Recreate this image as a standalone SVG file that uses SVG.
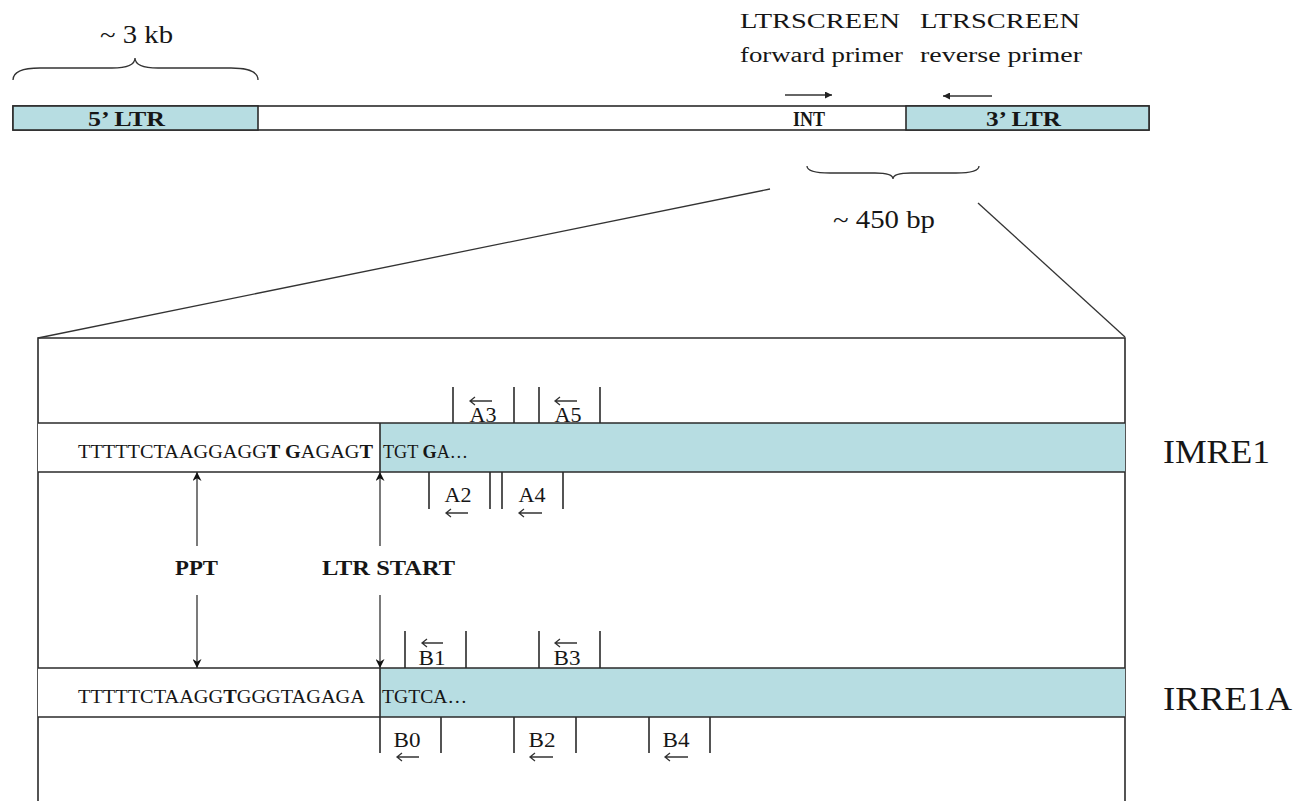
<svg xmlns="http://www.w3.org/2000/svg" width="1299" height="801" viewBox="0 0 1299 801">
<style>
  text { font-family: "Liberation Serif", "Times New Roman", serif; fill: #161616; }
  .b { font-weight: bold; }
  .ln { stroke: #2b2b2b; stroke-width: 1.6; fill: none; }
  .thin { stroke: #333; stroke-width: 1.3; fill: none; }
  .ltr { fill: #b7dde2; stroke: #2b2b2b; stroke-width: 1.6; }
  .bar { fill: #ffffff; stroke: #2b2b2b; stroke-width: 1.6; }
  .seq { font-size: 19px; }
  .lbl { font-size: 22px; }
  .big { font-size: 34px; }
  .mid { font-size: 20px; }
  .sz { font-size: 26px; }
</style>
<defs>
  <marker id="fh" viewBox="0 0 10 10" refX="10" refY="5" markerWidth="7" markerHeight="7" markerUnits="userSpaceOnUse" orient="auto">
    <path d="M0,0 L10,5 L0,10 Z" fill="#222"/>
  </marker>
  <marker id="vh" viewBox="0 0 10 10" refX="10" refY="5" markerWidth="10" markerHeight="9" markerUnits="userSpaceOnUse" orient="auto">
    <path d="M0,0 L10,5 L0,10 L3,5 Z" fill="#111"/>
  </marker>
</defs>

<!-- Top element -->
<g id="element-bar">
  <rect class="bar" x="13" y="106" width="1136" height="24"/>
  <rect class="ltr" x="13" y="106" width="245" height="24"/>
  <rect class="ltr" x="906" y="106" width="243" height="24"/>
</g>
<g id="ltr5">
  <text class="b" x="88" y="126" font-size="21" textLength="77" lengthAdjust="spacingAndGlyphs">5’ LTR</text>
</g>
<g id="int">
  <text class="b" x="793" y="126" font-size="21" textLength="32" lengthAdjust="spacingAndGlyphs">INT</text>
</g>
<g id="ltr3">
  <text class="b" x="986" y="126" font-size="21" textLength="75" lengthAdjust="spacingAndGlyphs">3’ LTR</text>
</g>
<g id="size-3kb">
  <path class="thin" d="M13,80 Q13,68 40,68 L112,68 Q135,68 135,58 Q135,68 158,68 L231,68 Q258,68 258,80"/>
  <text class="sz" x="100" y="43" textLength="73" lengthAdjust="spacingAndGlyphs">~ 3 kb</text>
</g>
<g id="fwd-primer">
  <text class="mid" x="740" y="28" textLength="160" lengthAdjust="spacingAndGlyphs">LTRSCREEN</text>
  <text class="mid" x="740" y="62" textLength="163" lengthAdjust="spacingAndGlyphs">forward primer</text>
</g>
<g id="rev-primer">
  <text class="mid" x="920" y="28" textLength="160" lengthAdjust="spacingAndGlyphs">LTRSCREEN</text>
  <text class="mid" x="920" y="62" textLength="162" lengthAdjust="spacingAndGlyphs">reverse primer</text>
</g>
<g id="size-450bp">
  <path class="thin" d="M807,166 Q807,173 830,173 L875,173 Q893,173 893,179 Q893,173 911,173 L956,173 Q979,173 979,166"/>
  <text class="sz" x="833" y="228" textLength="102" lengthAdjust="spacingAndGlyphs">~ 450 bp</text>
</g>

<!-- Zoomed panel frame -->
<g id="panel">
  <path class="ln" d="M38,801 V338 H1125 V801"/>
</g>

<!-- IMRE1 row -->
<g id="imre1">
  <rect x="38" y="423" width="1087" height="49" fill="#ffffff"/>
  <rect x="380" y="423" width="745" height="49" fill="#b7dde2"/>
  <path class="ln" d="M38,423 H1125 M38,472 H1125 M380,423 V472"/>
  <text class="seq" x="78" y="458" textLength="295" lengthAdjust="spacingAndGlyphs">TTTTTCTAAGGAGG<tspan class="b">T G</tspan>AGAG<tspan class="b">T</tspan></text>
  <text class="seq" x="383" y="458" textLength="85" lengthAdjust="spacingAndGlyphs">TGT <tspan class="b">G</tspan>A…</text>
  <text class="big" x="1163" y="463" textLength="107" lengthAdjust="spacingAndGlyphs">IMRE1</text>
</g>

<!-- IRRE1A row -->
<g id="irre1a">
  <rect x="38" y="668" width="1087" height="49" fill="#ffffff"/>
  <rect x="380" y="668" width="745" height="49" fill="#b7dde2"/>
  <path class="ln" d="M38,668 H1125 M38,717 H1125 M380,668 V717"/>
  <text class="seq" x="78" y="703" textLength="287" lengthAdjust="spacingAndGlyphs">TTTTTCTAAGG<tspan class="b">T</tspan>GGGTAGAGA</text>
  <text class="seq" x="382" y="703" textLength="85" lengthAdjust="spacingAndGlyphs">TGTCA…</text>
  <text class="big" x="1163" y="710" textLength="129" lengthAdjust="spacingAndGlyphs">IRRE1A</text>
</g>

<!-- Primers -->
<g id="primer-A3">
  <path class="ln" d="M453,387 V423 M514,387 V423"/>
  <text class="lbl" x="483" y="422" text-anchor="middle" textLength="27" lengthAdjust="spacingAndGlyphs">A3</text>
</g>
<g id="primer-A5">
  <path class="ln" d="M539,387 V423 M600,387 V423"/>
  <text class="lbl" x="568" y="422" text-anchor="middle" textLength="27" lengthAdjust="spacingAndGlyphs">A5</text>
</g>
<g id="primer-A2">
  <path class="ln" d="M429,472 V509 M490,472 V509"/>
  <text class="lbl" x="458" y="502" text-anchor="middle" textLength="27" lengthAdjust="spacingAndGlyphs">A2</text>
</g>
<g id="primer-A4">
  <path class="ln" d="M502,472 V509 M563,472 V509"/>
  <text class="lbl" x="532" y="502" text-anchor="middle" textLength="27" lengthAdjust="spacingAndGlyphs">A4</text>
</g>
<g id="primer-B1">
  <path class="ln" d="M405,631 V668 M466,631 V668"/>
  <text class="lbl" x="432" y="665" text-anchor="middle" textLength="27" lengthAdjust="spacingAndGlyphs">B1</text>
</g>
<g id="primer-B3">
  <path class="ln" d="M539,631 V668 M600,631 V668"/>
  <text class="lbl" x="567" y="665" text-anchor="middle" textLength="27" lengthAdjust="spacingAndGlyphs">B3</text>
</g>
<g id="primer-B0">
  <path class="ln" d="M380,717 V753 M441,717 V753"/>
  <text class="lbl" x="407" y="747" text-anchor="middle" textLength="27" lengthAdjust="spacingAndGlyphs">B0</text>
</g>
<g id="primer-B2">
  <path class="ln" d="M514,717 V753 M576,717 V753"/>
  <text class="lbl" x="542" y="747" text-anchor="middle" textLength="27" lengthAdjust="spacingAndGlyphs">B2</text>
</g>
<g id="primer-B4">
  <path class="ln" d="M649,717 V753 M710,717 V753"/>
  <text class="lbl" x="676" y="747" text-anchor="middle" textLength="27" lengthAdjust="spacingAndGlyphs">B4</text>
</g>

<!-- Site labels -->
<g id="ppt">
  <text class="b" x="175" y="575" font-size="20" textLength="43" lengthAdjust="spacingAndGlyphs">PPT</text>
</g>
<g id="ltr-start">
  <text class="b" x="322" y="575" font-size="20" textLength="133" lengthAdjust="spacingAndGlyphs">LTR START</text>
</g>

<!-- Connectors -->
<g id="connectors">
  <path class="thin" d="M38,338 L770,189"/>
  <path class="thin" d="M978,203 L1125,337"/>
  <path class="thin" d="M785,95 H832" marker-end="url(#fh)"/>
  <path class="thin" d="M992,96 H943" marker-end="url(#fh)"/>
  <path class="thin" d="M197,546 V472" marker-end="url(#vh)"/>
  <path class="thin" d="M197,595 V668" marker-end="url(#vh)"/>
  <path class="thin" d="M380,546 V472" marker-end="url(#vh)"/>
  <path class="thin" d="M380,595 V668" marker-end="url(#vh)"/>
  <g class="thin" stroke-width="1.2">
    <path d="M492,401 H470 M475,397 L470,401 L475,405"/>
    <path d="M577,401 H555 M560,397 L555,401 L560,405"/>
    <path d="M468,513 H446 M451,509 L446,513 L451,517"/>
    <path d="M542,513 H519 M524,509 L519,513 L524,517"/>
    <path d="M443,643 H422 M427,639 L422,643 L427,647"/>
    <path d="M577,643 H555 M560,639 L555,643 L560,647"/>
    <path d="M419,757 H397 M402,753 L397,757 L402,761"/>
    <path d="M553,757 H530 M535,753 L530,757 L535,761"/>
    <path d="M688,757 H665 M670,753 L665,757 L670,761"/>
  </g>
</g>
</svg>
